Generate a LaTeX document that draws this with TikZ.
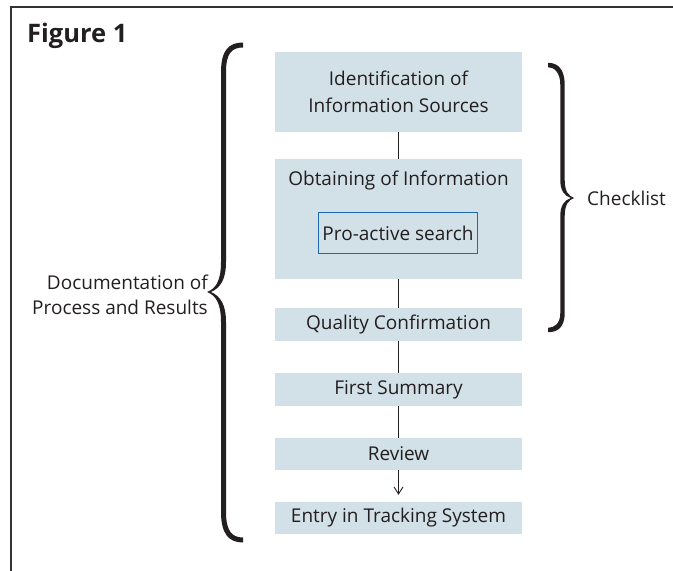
\documentclass[tikz,border=0pt]{standalone}
\usepackage{fontspec}
\setmainfont{Open Sans}
\usetikzlibrary{arrows.meta}
\definecolor{boxfill}{RGB}{210,224,232}
\definecolor{ink}{RGB}{35,31,32}
\definecolor{blueline}{RGB}{28,106,176}
\definecolor{framecol}{RGB}{50,50,50}
\begin{document}
\begin{tikzpicture}[x=1pt,y=-1pt,
  every node/.style={text=ink, font=\fontsize{19}{22}\selectfont},
  stepbox/.style={fill=boxfill, draw=none, minimum width=247pt, inner sep=0pt, align=center},
  label/.style={inner sep=0pt, align=center},
  conn/.style={draw=ink, line width=0.9pt},
  bracefill/.style={fill=ink, draw=none}]
\useasboundingbox (0,0) rectangle (673,571);
\draw[framecol, line width=1.6pt] (673,7) -- (11,7) -- (11,571);

\node[label, anchor=base west, font=\fontsize{25.5}{28}\selectfont\bfseries] (title) at (27,42) {Figure 1};

\node[stepbox, minimum height=80pt, font=\fontsize{19}{27}\selectfont] (b1) at (398.5,92) {Identification of\\Information Sources};
\node[stepbox, minimum height=120pt] (b2) at (398.5,219) {};
\node[label] (b2t) at (398.5,181) {Obtaining of Information};
\node[draw=blueline, line width=1.5pt, minimum width=159pt, minimum height=41pt, inner sep=0pt] (pro) at (398,233) {Pro-active search};
\node[stepbox, minimum height=33pt] (b3) at (398.5,324.5) {Quality Confirmation};
\node[stepbox, minimum height=33pt] (b4) at (398.5,389.5) {First Summary};
\node[stepbox, minimum height=32pt] (b5) at (398.5,454) {Review};
\node[stepbox, minimum height=32pt] (b6) at (398.5,518) {Entry in Tracking System};

\draw[conn] (b1) -- (b2);
\draw[conn] (b2) -- (b3);
\draw[conn] (b3) -- (b4);
\draw[conn] (b4) -- (b5);
\draw[conn, -{Straight Barb[length=7pt,width=9pt,line width=0.9pt]}, shorten >=7pt] (b5) -- (b6);

% left brace
\fill[bracefill] (243,42.5) .. controls (229,42.5) and (221,50) .. (221,72) -- (221,262)
  .. controls (221,282) and (215,289) .. (207,292)
  .. controls (215,295) and (221,302) .. (221,322) -- (221,512)
  .. controls (221,534) and (229,542.5) .. (243,542.5) -- (243,537.5)
  .. controls (232,537.5) and (226,531) .. (226,512) -- (226,322)
  .. controls (226,304) and (220,296) .. (211,292)
  .. controls (220,288) and (226,280) .. (226,262) -- (226,72)
  .. controls (226,53) and (232,47.5) .. (243,47.5) -- cycle;
% right brace
\fill[bracefill] (548,62.8) .. controls (557,62.8) and (564.7,68) .. (564.7,85) -- (564.7,180)
  .. controls (564.7,192) and (569,196) .. (574,198)
  .. controls (569,200) and (564.7,204) .. (564.7,216) -- (564.7,313)
  .. controls (564.7,328) and (557,332.2) .. (548,332.2) -- (548,327.8)
  .. controls (554,327.8) and (560.3,324) .. (560.3,313) -- (560.3,216)
  .. controls (560.3,206) and (564,200) .. (571,198)
  .. controls (564,196) and (560.3,190) .. (560.3,180) -- (560.3,85)
  .. controls (560.3,72) and (554,67.2) .. (548,67.2) -- cycle;

\node[label, anchor=west] (check) at (587,198) {Checklist};
\node[label, anchor=east, align=right, font=\fontsize{19}{25}\selectfont] (doc) at (208,295) {Documentation of\\Process and Results};
\end{tikzpicture}
\end{document}
